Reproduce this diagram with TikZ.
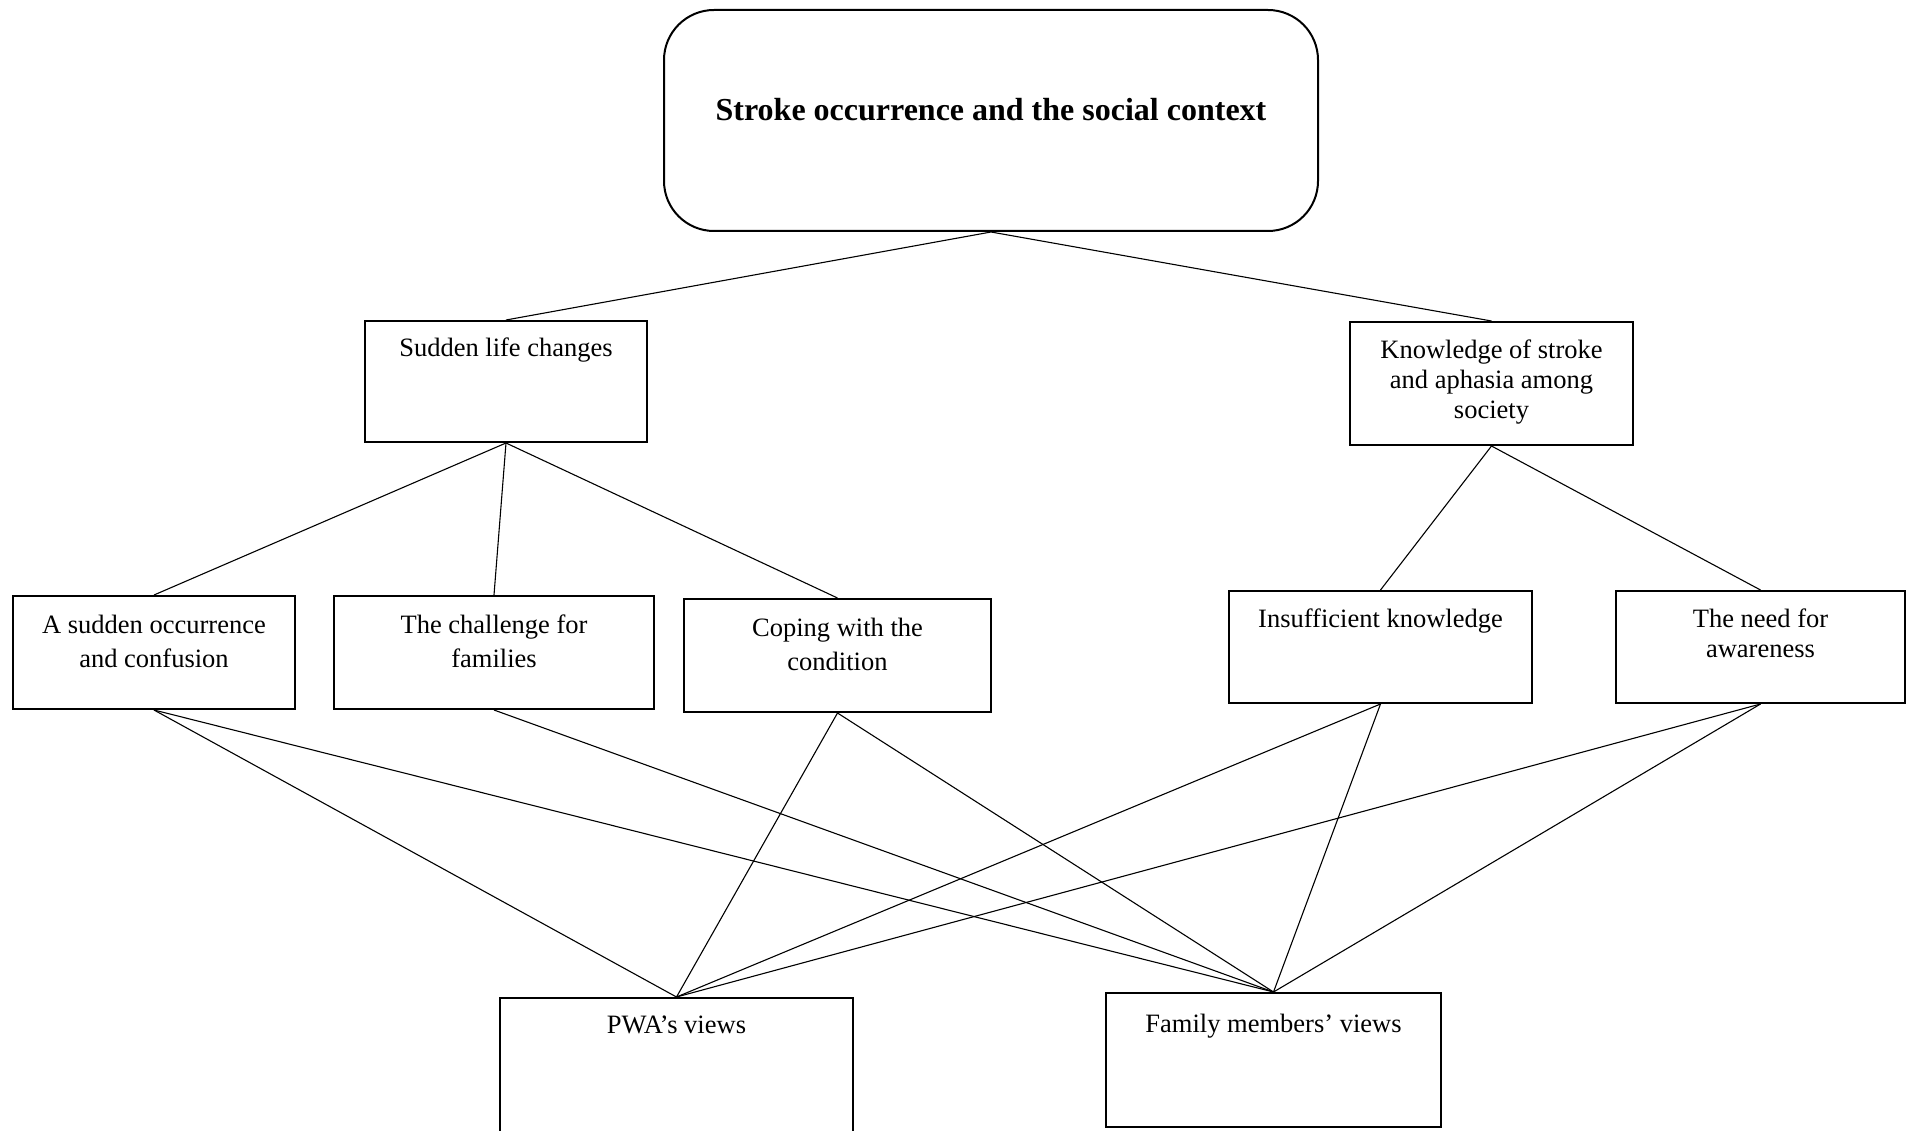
\documentclass[tikz,border=0pt]{standalone}
\usepackage{fontspec}
\setmainfont{Liberation Serif}
\begin{document}
\begin{tikzpicture}[x=1pt,y=-1pt,
  box/.style={draw=black, line width=2pt, rectangle, inner sep=0pt},
  conn/.style={draw=black, line width=1.1pt},
  lbl/.style={anchor=base, inner sep=0pt, font=\fontsize{26.5}{30}\selectfont},
  lblw/.style={anchor=base, inner sep=0pt, font=\fontsize{26.5}{34}\selectfont},
  ttl/.style={anchor=base, inner sep=0pt, font=\fontsize{32}{38}\selectfont\bfseries}]
\clip (0,0) rectangle (1906,1131);
\fill[white] (0,0) rectangle (1906,1131);
% boxes
\node[box, rounded corners=50pt, minimum width=654pt, minimum height=221pt] (top) at (991,120.5) {};
\node[box, minimum width=282pt, minimum height=121pt] (sud) at (506,381.5) {};
\node[box, minimum width=283pt, minimum height=123pt] (know) at (1491.5,383.5) {};
\node[box, minimum width=282pt, minimum height=113pt] (asud) at (154,652.5) {};
\node[box, minimum width=320pt, minimum height=113pt] (chal) at (494,652.5) {};
\node[box, minimum width=307pt, minimum height=113pt] (cop) at (837.5,655.5) {};
\node[box, minimum width=303pt, minimum height=112pt] (insuf) at (1380.5,647) {};
\node[box, minimum width=289pt, minimum height=112pt] (need) at (1760.5,647) {};
\node[box, minimum width=353pt, minimum height=152pt] (pwa) at (676.5,1074) {};
\node[box, minimum width=335pt, minimum height=134pt] (fam) at (1273.5,1060) {};
% texts
\node[ttl] (ttop) at (991,121) {Stroke occurrence and the social context};
\node[lbl] (tsud) at (506,357) {Sudden life changes};
\node[lbl] (tknow) at (1491.5,359) {\begin{tabular}[t]{@{}c@{}}Knowledge of stroke\\and aphasia among\\society\end{tabular}};
\node[lblw] (tasud) at (154,633) {\begin{tabular}[t]{@{}c@{}}A sudden occurrence\\and confusion\end{tabular}};
\node[lblw] (tchal) at (494,633) {\begin{tabular}[t]{@{}c@{}}The challenge for\\families\end{tabular}};
\node[lblw] (tcop) at (837.5,636) {\begin{tabular}[t]{@{}c@{}}Coping with the\\condition\end{tabular}};
\node[lbl] (tinsuf) at (1380.5,627) {Insufficient knowledge};
\node[lbl] (tneed) at (1760.5,627) {\begin{tabular}[t]{@{}c@{}}The need for\\awareness\end{tabular}};
\node[lbl] (tpwa) at (676.5,1033) {PWA’s views};
\node[lbl] (tfam) at (1273.5,1032) {Family members’ views};
% connectors
\draw[conn] (top.south) -- (sud.north);
\draw[conn] (top.south) -- (know.north);
\draw[conn] (sud.south) -- (asud.north);
\draw[conn] (sud.south) -- (chal.north);
\draw[conn] (sud.south) -- (cop.north);
\draw[conn] (know.south) -- (insuf.north);
\draw[conn] (know.south) -- (need.north);
\draw[conn] (asud.south) -- (pwa.north);
\draw[conn] (asud.south) -- (fam.north);
\draw[conn] (chal.south) -- (fam.north);
\draw[conn] (cop.south) -- (pwa.north);
\draw[conn] (cop.south) -- (fam.north);
\draw[conn] (insuf.south) -- (pwa.north);
\draw[conn] (insuf.south) -- (fam.north);
\draw[conn] (need.south) -- (pwa.north);
\draw[conn] (need.south) -- (fam.north);
\end{tikzpicture}
\end{document}
